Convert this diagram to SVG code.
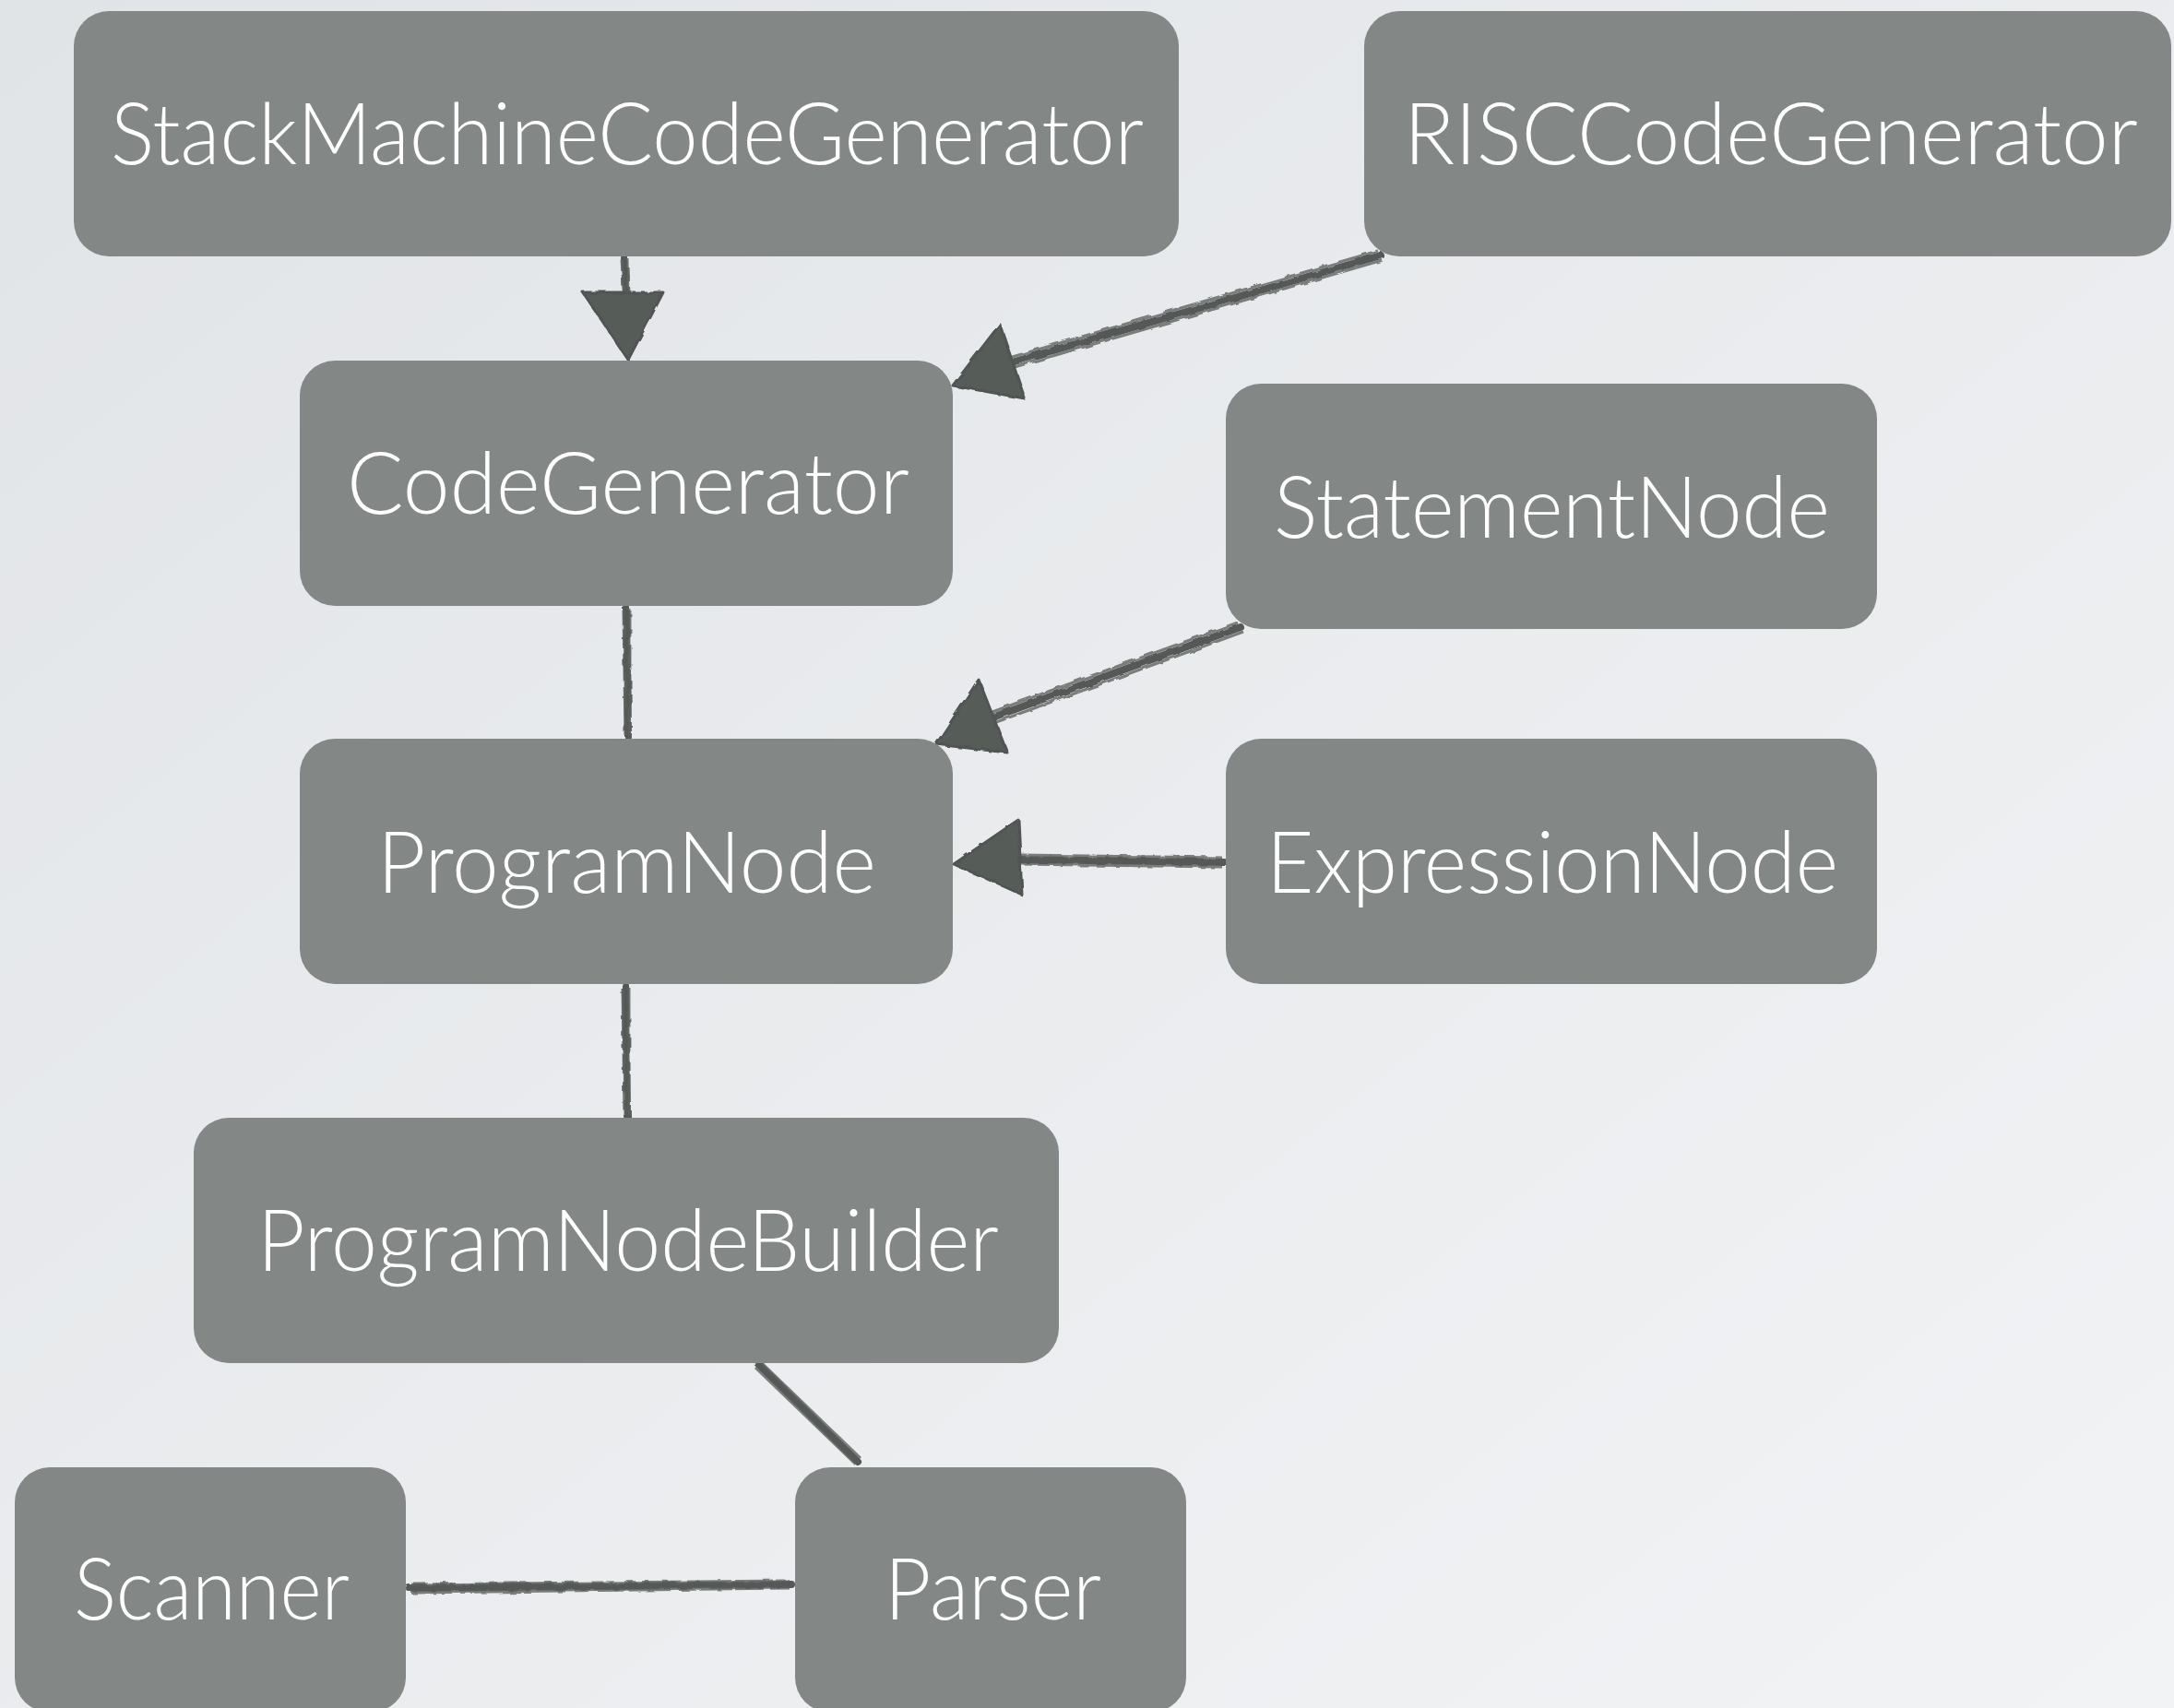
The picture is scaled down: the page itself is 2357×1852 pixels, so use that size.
<svg xmlns="http://www.w3.org/2000/svg" width="2357" height="1852" viewBox="0 0 2357 1852">
<style>
.box{fill:#838785;}
.lbl{fill:#ffffff;font-family:"Lato Light",Lato,"Open Sans","Noto Sans",sans-serif;font-weight:300;font-size:92px;}
.ln{stroke:#555957;stroke-width:8;fill:none;stroke-linecap:round;}
.ln2{stroke:#5d615f;stroke-width:3;fill:none;opacity:0.8;}
.head{fill:#575b59;stroke:#505452;stroke-width:3;stroke-linejoin:round;}
</style>
<defs>
<linearGradient id="bg" x1="0" y1="0" x2="1" y2="1">
<stop offset="0" stop-color="#e1e4e7"/>
<stop offset="1" stop-color="#f2f3f5"/>
</linearGradient>
<filter id="rough" x="-5%" y="-5%" width="110%" height="110%">
<feTurbulence type="fractalNoise" baseFrequency="0.08" numOctaves="2" seed="3"/>
<feDisplacementMap in="SourceGraphic" scale="5"/>
</filter>
</defs>
<rect width="2357" height="1852" fill="url(#bg)"/>

<g id="connectors" filter="url(#rough)">
<!-- StackMachine -> CodeGenerator -->
<path class="ln" d="M677 280 L679 320"/>
<path class="ln2" d="M674 282 L677 322 M681 281 L682 321"/>
<polygon class="head" points="632,317 719,317 681,390"/>
<!-- RISC -> CodeGenerator -->
<path class="ln" d="M1497 277 L1097 393"/>
<path class="ln2" d="M1494 272 L1094 388 M1499 282 L1100 398"/>
<polygon class="head" points="1033,418 1084,352 1111,432"/>
<!-- CodeGenerator - ProgramNode -->
<path class="ln" d="M679 659 L681 799"/>
<path class="ln2" d="M676 662 L678 797 M683 661 L683 798"/>
<!-- StatementNode -> ProgramNode -->
<path class="ln" d="M1345 680 L1076 778"/>
<path class="ln2" d="M1342 675 L1073 773 M1348 685 L1080 783"/>
<polygon class="head" points="1015,807 1061,737 1092,816"/>
<!-- ExpressionNode -> ProgramNode -->
<path class="ln" d="M1327 935 L1104 932"/>
<path class="ln2" d="M1325 930 L1105 927 M1325 940 L1105 937"/>
<polygon class="head" points="1034,937 1104,889 1108,970"/>
<!-- ProgramNode - ProgramNodeBuilder -->
<path class="ln" d="M678 1069 L680 1210"/>
<path class="ln2" d="M675 1072 L677 1208 M682 1071 L682 1209"/>
<!-- ProgramNodeBuilder - Parser -->
<path class="ln" d="M822 1479 L931 1586"/>
<path class="ln2" d="M826 1478 L934 1582 M819 1483 L928 1588"/>
<!-- Scanner - Parser -->
<path class="ln" d="M444 1722 L858 1718"/>
<path class="ln2" d="M446 1718 L856 1714 M446 1727 L856 1722"/>
</g>

<g id="StackMachineCodeGenerator">
<rect class="box" x="80" y="12" width="1198" height="266" rx="38"/>
<text class="lbl" x="120" y="178" textLength="1120" lengthAdjust="spacingAndGlyphs">StackMachineCodeGenerator</text>
</g>
<g id="RISCCodeGenerator">
<rect class="box" x="1479" y="12" width="875" height="266" rx="38"/>
<text class="lbl" x="1522" y="178" textLength="796" lengthAdjust="spacingAndGlyphs">RISCCodeGenerator</text>
</g>
<g id="CodeGenerator">
<rect class="box" x="325" y="391" width="708" height="266" rx="38"/>
<text class="lbl" x="376" y="557" textLength="610" lengthAdjust="spacingAndGlyphs">CodeGenerator</text>
</g>
<g id="StatementNode">
<rect class="box" x="1329" y="416" width="706" height="266" rx="38"/>
<text class="lbl" x="1381" y="583" textLength="603" lengthAdjust="spacingAndGlyphs">StatementNode</text>
</g>
<g id="ProgramNode">
<rect class="box" x="325" y="801" width="708" height="266" rx="38"/>
<text class="lbl" x="409" y="968" textLength="541" lengthAdjust="spacingAndGlyphs">ProgramNode</text>
</g>
<g id="ExpressionNode">
<rect class="box" x="1329" y="801" width="706" height="266" rx="38"/>
<text class="lbl" x="1373" y="968" textLength="620" lengthAdjust="spacingAndGlyphs">ExpressionNode</text>
</g>
<g id="ProgramNodeBuilder">
<rect class="box" x="210" y="1212" width="938" height="266" rx="38"/>
<text class="lbl" x="279" y="1378" textLength="804" lengthAdjust="spacingAndGlyphs">ProgramNodeBuilder</text>
</g>
<g id="Scanner">
<rect class="box" x="16" y="1591" width="424" height="266" rx="38"/>
<text class="lbl" x="80" y="1756" textLength="299" lengthAdjust="spacingAndGlyphs">Scanner</text>
</g>
<g id="Parser">
<rect class="box" x="862" y="1591" width="424" height="266" rx="38"/>
<text class="lbl" x="959" y="1756" textLength="235" lengthAdjust="spacingAndGlyphs">Parser</text>
</g>
</svg>
